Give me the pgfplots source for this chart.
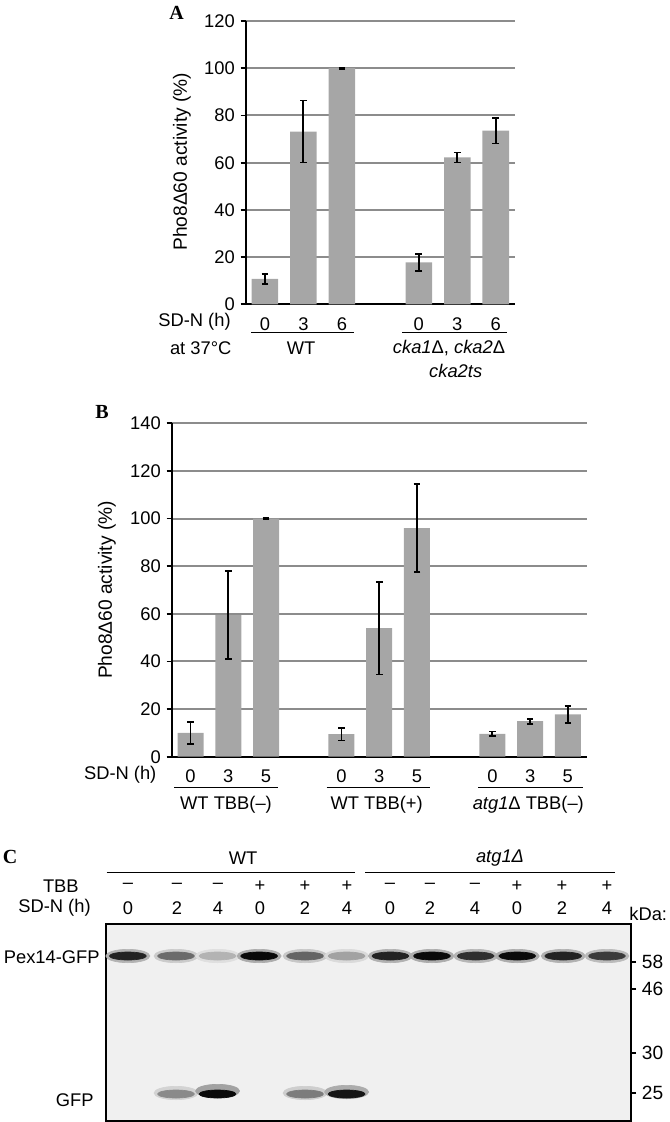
\documentclass[border=0pt]{standalone}
\usepackage{fontspec}
\setmainfont{Liberation Sans}
\newfontfamily\panelfont{Liberation Serif}
\usepackage{pgfplots}
\pgfplotsset{compat=1.18}
\begin{document}
\begin{tikzpicture}
\pgfplotsset{
  barchart/.style={
    scale only axis, anchor=south west,
    axis x line*=bottom, axis y line*=left,
    axis line style={line width=1.1pt, black},
    ymajorgrids, grid style={line width=1.2pt, color=black!45},
    tick align=outside, major tick length=3pt,
    y tick style={line width=1.1pt, black},
    x tick style={draw=none},
    ybar, bar width=0.69,
    /pgf/number format/assume math mode=true,
    tick label style={font=\fontsize{11}{13}\selectfont},
    xticklabel style={yshift=-1.5pt},
    error bars/y dir=both, error bars/y explicit,
    error bars/error bar style={line width=1.1pt, black},
    error bars/error mark options={rotate=90, mark size=2pt, line width=1.1pt, black},
  }
}
% ---------------- Panel A ----------------
\begin{axis}[barchart, at={(147.42pt,-182.64pt)}, width=161.58pt, height=170.04pt,
  xmin=-0.5, xmax=6.5, ymin=0, ymax=120, ytick={0,20,...,120},
  xtick={0,1,2,4,5,6}, xticklabels={0,3,6,0,3,6}]
\addplot[fill=black!35, draw=none] coordinates {
  (0,10.8) +- (0,2.1)
  (1,73.2) +- (0,13.1)
  (2,100) +- (0,0.2)
  (4,17.8) +- (0,3.7)
  (5,62.2) +- (0,2.1)
  (6,73.6) +- (0,5.5)
};
\end{axis}
% ---------------- Panel B ----------------
\begin{axis}[barchart, at={(103.02pt,-454.02pt)}, width=249pt, height=200.04pt,
  xmin=-0.5, xmax=10.5, ymin=0, ymax=140, ytick={0,20,...,140},
  xtick={0,1,2,4,5,6,8,9,10}, xticklabels={0,3,5,0,3,5,0,3,5}]
\addplot[fill=black!35, draw=none] coordinates {
  (0,10.0) +- (0,4.7)
  (1,59.5) +- (0,18.4)
  (2,100) +- (0,0.2)
  (4,9.5) +- (0,2.7)
  (5,54.0) +- (0,19.5)
  (6,96.0) +- (0,18.6)
  (8,9.6) +- (0,1.0)
  (9,14.9) +- (0,1.0)
  (10,17.8) +- (0,3.6)
};
\end{axis}
% ---------------- Panel C (blot) ----------------
\begin{axis}[scale only axis, anchor=south west, at={(63.6pt,-672.6pt)},
  width=315pt, height=118.2pt, xmin=-0.5, xmax=11.5, ymin=0, ymax=197,
  xtick=\empty, ytick={28,68,132,159}, yticklabels={25,30,46,58},
  ytick pos=right, yticklabel pos=right, tick align=outside, major tick length=3pt,
  tick style={line width=0.8pt, black}, axis line style={line width=1pt, black},
  axis background/.style={fill=black!6},
  colormap={blot}{color=(black!6) color=(black)},
  point meta min=0, point meta max=1,
  /pgf/number format/assume math mode=true,
  tick label style={font=\fontsize{11.5}{13}\selectfont}]
% halo
\addplot[scatter, only marks, mark=*, mark size=4pt, scatter src=explicit,
  mark options={xscale=3.3},
  scatter/use mapped color={draw=mapped color, fill=mapped color}] table[meta=i] {
x y i
0 165 0.25
1.1 165 0.15
2.05 165 0.07
3.0 165 0.28
4.05 165 0.17
5.0 165 0.09
6.0 165 0.26
6.95 165 0.28
7.95 165 0.24
8.9 165 0.28
9.95 165 0.26
10.95 165 0.22
1.1 28 0.12
2.05 30 0.32
4.05 28 0.14
5.0 29 0.28
};
% core
\addplot[scatter, only marks, mark=*, mark size=2.4pt, scatter src=explicit,
  mark options={xscale=4.6},
  scatter/use mapped color={draw=mapped color, fill=mapped color}] table[meta=i] {
x y i
0 165 0.85
1.1 165 0.55
2.05 165 0.25
3.0 165 0.95
4.05 165 0.58
5.0 165 0.32
6.0 165 0.85
6.95 165 0.95
7.95 165 0.80
8.9 165 0.95
9.95 165 0.85
10.95 165 0.75
1.1 27 0.42
2.05 27 0.95
4.05 27 0.48
5.0 27 0.90
};
\end{axis}
% ---------------- annotations (pixel coordinates) ----------------
\begin{scope}[x=0.6pt, y=-0.6pt, every node/.style={font=\fontsize{11}{13}\selectfont, inner sep=0pt}]
% Panel A
\node[font=\panelfont\bfseries\fontsize{12}{14}\selectfont] at (176.7,13) {A};
\node[rotate=90, font=\fontsize{11.5}{13}\selectfont] at (182,161.7) {Pho8Δ60 activity (\%)};
\node[anchor=east] at (231,321.7) {SD-N (h)};
\node[anchor=east] at (231.7,347.7) {at 37°C};
\draw[line width=0.9pt] (251,332.3) -- (354.3,332.3);
\draw[line width=0.9pt] (402.3,332.3) -- (506.7,332.3);
\node at (301,347.7) {WT};
\node at (449,348.3) {\textit{cka1}Δ, \textit{cka2}Δ};
\node at (455.7,371) {\textit{cka2ts}};
% Panel B
\node[font=\panelfont\bfseries\fontsize{12}{14}\selectfont] at (102,412) {B};
\node[rotate=90, font=\fontsize{11.5}{13}\selectfont] at (107,590) {Pho8Δ60 activity (\%)};
\node[anchor=east] at (156.7,774.3) {SD-N (h)};
\draw[line width=0.9pt] (174.3,787.3) -- (278.3,787.3);
\draw[line width=0.9pt] (326.7,787.3) -- (430,787.3);
\draw[line width=0.9pt] (478.3,787.3) -- (582.7,787.3);
\node at (226,805) {WT TBB(–)};
\node at (376.7,805) {WT TBB(+)};
\node at (528.3,805) {\textit{atg1}Δ TBB(–)};
% Panel C
\node[font=\panelfont\bfseries\fontsize{12}{14}\selectfont] at (10,857) {C};
\node at (243,858) {WT};
\node at (500,858) {\textit{atg1Δ}};
\draw[line width=0.9pt] (106.7,872.7) -- (355,872.7);
\draw[line width=0.9pt] (365,872.7) -- (615,872.7);
\node[anchor=east] at (79,886) {TBB};
\node[anchor=east] at (91,908) {SD-N (h)};
\foreach \xx/\s/\n in {128/–/0, 177/–/2, 218/–/4, 260/+/0, 305/+/2, 347/+/4,
                       390/–/0, 430/–/2, 475/–/4, 517/+/0, 562/+/2, 607/+/4} {
  \node at (\xx,886) {\s};
  \node at (\xx,908) {\n};
}
\node[anchor=west] at (629,914) {kDa:};
\node[anchor=east] at (100,957) {Pex14-GFP};
\node[anchor=east] at (94,1100) {GFP};
\end{scope}
\pgfresetboundingbox
\path (0pt,0pt) rectangle (401.4pt,-673.2pt);
\end{tikzpicture}
\end{document}
